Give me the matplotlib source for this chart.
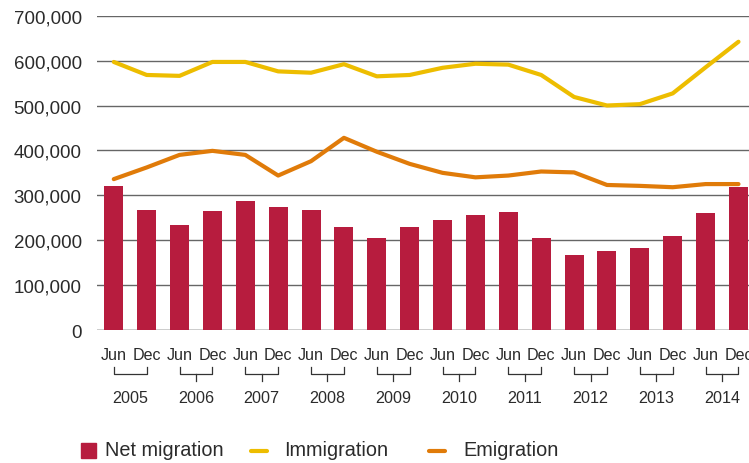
import matplotlib
matplotlib.use("Agg")
import matplotlib.pyplot as plt
import matplotlib.transforms as mtransforms
from matplotlib.lines import Line2D
from matplotlib.patches import Rectangle

plt.rcParams['font.family'] = ['Liberation Sans', 'DejaVu Sans']

periods = ["Jun", "Dec"] * 10
years = ["2005", "2006", "2007", "2008", "2009", "2010", "2011", "2012", "2013", "2014"]
net_migration = [320000, 267000, 234000, 265000, 287000, 274000, 267000, 229000, 205000, 229000,
                 245000, 256000, 263000, 205000, 167000, 176000, 183000, 209000, 261000, 318000]
immigration = [597000, 568000, 566000, 597000, 597000, 576000, 573000, 592000, 565000, 568000,
               584000, 593000, 591000, 568000, 519000, 500000, 503000, 527000, 585000, 642000]
emigration = [336000, 362000, 390000, 399000, 390000, 344000, 376000, 428000, 397000, 370000,
              350000, 340000, 344000, 353000, 351000, 323000, 321000, 318000, 325000, 325000]
yticks = [0, 100000, 200000, 300000, 400000, 500000, 600000, 700000]

BAR = "#B71C3E"
YEL = "#EDBD00"
ORA = "#E07B09"
TXT = "#2b2b2b"

fig = plt.figure(figsize=(7.49, 4.64), dpi=100)
ax = fig.add_axes([97/749, 1-331/464, 1-97/749, (331-16.7)/464])

x = list(range(len(net_migration)))
for yv in yticks:
    ax.axhline(yv, color="#000000" if yv == 0 else "#666666", lw=1.0, zorder=1)
ax.bar(x, net_migration, width=0.58, color=BAR, zorder=2)
ax.plot(x, immigration, color=YEL, lw=3, solid_capstyle='round', zorder=3)
ax.plot(x, emigration, color=ORA, lw=3, solid_capstyle='round', zorder=3)

ax.set_xlim(-0.51, 19.32)
ax.set_ylim(0, 700000)
ax.set_yticks(yticks)
ax.set_yticklabels([f"{v:,}" for v in yticks], fontsize=13.5, color=TXT)
ax.tick_params(axis='y', length=0, pad=11)
ax.set_xticks(x)
ax.set_xticklabels(periods, fontsize=11.6, color=TXT)
ax.tick_params(axis='x', length=0, pad=12)
for s in ax.spines.values():
    s.set_visible(False)

# year brackets
trans = mtransforms.blended_transform_factory(ax.transData, fig.transFigure)
def fy(py):
    return 1 - py/464
for i, yr in enumerate(years):
    a, b = 2*i, 2*i + 1
    c = (a + b) / 2
    ax.add_line(Line2D([a, a, b, b], [fy(368), fy(375), fy(375), fy(368)],
                       transform=trans, color="#333333", lw=0.9, clip_on=False))
    if i > 0:
        ax.add_line(Line2D([c, c], [fy(375), fy(382)], transform=trans,
                           color="#333333", lw=0.9, clip_on=False))
    ax.text(c, fy(399), yr, transform=trans, ha='center', va='center',
            fontsize=11.6, color=TXT)

# legend
fig.patches.append(Rectangle((81/749, fy(459)), 15/749, 15/464, transform=fig.transFigure,
                             color=BAR, figure=fig))
fig.text(105/749, fy(451), "Net migration", fontsize=14.3, color=TXT, va='center', ha='left')
fig.add_artist(Line2D([251/749, 267/749], [fy(452), fy(452)], transform=fig.transFigure,
                      color=YEL, lw=3, solid_capstyle='round'))
fig.text(284/749, fy(451), "Immigration", fontsize=14.3, color=TXT, va='center', ha='left')
fig.add_artist(Line2D([429/749, 445/749], [fy(452), fy(452)], transform=fig.transFigure,
                      color=ORA, lw=3, solid_capstyle='round'))
fig.text(463/749, fy(451), "Emigration", fontsize=14.3, color=TXT, va='center', ha='left')

fig.savefig("out.png", dpi=100)
